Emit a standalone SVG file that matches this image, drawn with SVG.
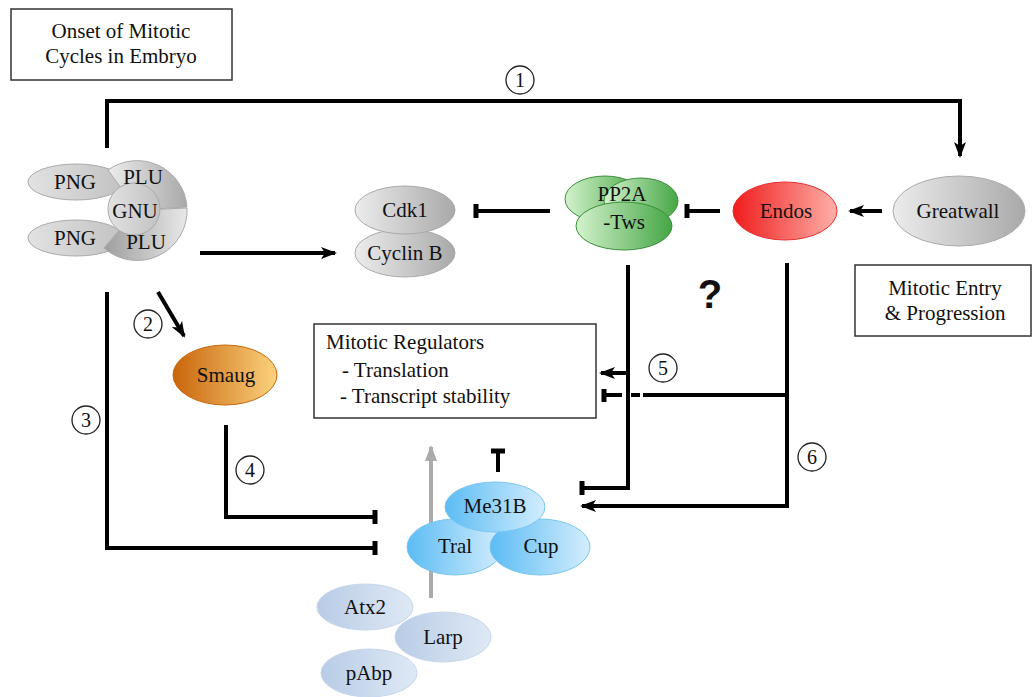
<svg xmlns="http://www.w3.org/2000/svg" width="1032" height="697" viewBox="0 0 1032 697" font-family="'Liberation Serif', 'Times New Roman', serif">
<defs>
<style>
text{font-family:'Liberation Serif','Times New Roman',serif;fill:#111;}
.lbl{font-size:21px;text-anchor:middle;}
.box{fill:#fff;stroke:#333;stroke-width:1.5;}
.ln{fill:none;stroke:#000;stroke-width:4;}
.bar{stroke:#000;stroke-width:5;}
.num circle{fill:#fff;stroke:#222;stroke-width:1.3;}
.num text{font-size:20px;text-anchor:middle;}
.q{font-family:'Liberation Sans',Arial,sans-serif;font-weight:bold;font-size:40px;text-anchor:middle;}
</style>
<marker id="ah" markerUnits="userSpaceOnUse" markerWidth="16" markerHeight="14" refX="14" refY="7" orient="auto">
<path d="M0,1 L16,7 L0,13 L4,7 z" fill="#000"/>
</marker>
<marker id="ahg" markerUnits="userSpaceOnUse" markerWidth="16" markerHeight="14" refX="14" refY="7" orient="auto">
<path d="M0,1 L16,7 L0,13 z" fill="#aaa"/>
</marker>
<linearGradient id="gGray" x1="0" x2="1" y1="0" y2="0"><stop offset="0" stop-color="#ececec"/><stop offset="1" stop-color="#a9a9a9"/></linearGradient>
<linearGradient id="gGrayL" x1="0" x2="1" y1="0" y2="0"><stop offset="0" stop-color="#e2e2e2"/><stop offset="1" stop-color="#c2c2c2"/></linearGradient>
<linearGradient id="gGrayR" x1="0" x2="1" y1="0" y2="0"><stop offset="0" stop-color="#9e9e9e"/><stop offset="1" stop-color="#e8e8e8"/></linearGradient>
<linearGradient id="gGreen" x1="0" x2="1" y1="0" y2="0"><stop offset="0" stop-color="#d4f2cc"/><stop offset="1" stop-color="#45a645"/></linearGradient>
<linearGradient id="gRed" x1="0" x2="1" y1="0" y2="0"><stop offset="0" stop-color="#f01c1c"/><stop offset="1" stop-color="#fdb0a8"/></linearGradient>
<linearGradient id="gOrange" x1="0" x2="1" y1="0" y2="0"><stop offset="0" stop-color="#c9650a"/><stop offset="1" stop-color="#fbd27e"/></linearGradient>
<linearGradient id="gBlue" x1="0" x2="1" y1="0" y2="0"><stop offset="0" stop-color="#5cbcf4"/><stop offset="1" stop-color="#d3edfd"/></linearGradient>
<linearGradient id="gPale" x1="0" x2="1" y1="0" y2="0"><stop offset="0" stop-color="#b8cce6"/><stop offset="1" stop-color="#dfe9f5"/></linearGradient>
</defs>
<rect width="1032" height="697" fill="#fff"/>

<g id="title-box">
<rect class="box" x="11" y="9" width="221" height="71"/>
<text class="lbl" x="121" y="38">Onset of Mitotic</text>
<text class="lbl" x="121" y="63">Cycles in Embryo</text>
</g>

<g id="entry-box">
<rect class="box" x="855" y="265" width="176" height="71"/>
<text class="lbl" x="945" y="295">Mitotic Entry</text>
<text class="lbl" x="945" y="320">&amp; Progression</text>
</g>

<g id="regulators-box">
<rect class="box" x="314" y="324" width="282" height="94"/>
<text x="326" y="349" font-size="21">Mitotic Regulators</text>
<text x="342" y="377" font-size="21">- Translation</text>
<text x="340" y="403" font-size="21">- Transcript stability</text>
</g>

<g id="connectors">
<polyline class="ln" points="107,148 107,101 960,101 960,156" marker-end="url(#ah)"/>
<line class="ln" x1="200" y1="253" x2="335" y2="253" marker-end="url(#ah)"/>
<line class="ln" x1="550" y1="211" x2="476" y2="211"/>
<line class="bar" x1="476" y1="204" x2="476" y2="218"/>
<line class="ln" x1="720" y1="211" x2="687" y2="211"/>
<line class="bar" x1="687" y1="204" x2="687" y2="218"/>
<line class="ln" x1="882" y1="211" x2="850" y2="211" marker-end="url(#ah)"/>
<line class="ln" x1="158" y1="292" x2="184" y2="336" marker-end="url(#ah)"/>
<polyline class="ln" points="107,292 107,548 375,548"/>
<line class="bar" x1="375" y1="541" x2="375" y2="555"/>
<polyline class="ln" points="226,425 226,517 375,517"/>
<line class="bar" x1="375" y1="510" x2="375" y2="524"/>
<polyline class="ln" points="628,265 628,488 582,488"/>
<line class="bar" x1="582" y1="481" x2="582" y2="495"/>
<polyline class="ln" points="787,263 787,506 582,506" marker-end="url(#ah)"/>
<line class="ln" x1="628" y1="373" x2="601" y2="373" marker-end="url(#ah)"/>
<line class="ln" x1="787" y1="395" x2="643" y2="395"/>
<line class="ln" x1="640" y1="395" x2="631" y2="395"/>
<line class="ln" x1="622" y1="395" x2="604" y2="395"/>
<line class="bar" x1="604" y1="389" x2="604" y2="402"/>
<line class="ln" x1="498" y1="472" x2="498" y2="451"/>
<line class="bar" x1="491" y1="451" x2="505" y2="451"/>
<line x1="431" y1="598" x2="431" y2="447" stroke="#aaa" stroke-width="4" marker-end="url(#ahg)"/>
</g>

<g id="labels">
<g class="num"><circle cx="520" cy="80" r="14"/><text x="520" y="87">1</text></g>
<g class="num"><circle cx="148" cy="324" r="14"/><text x="148" y="331">2</text></g>
<g class="num"><circle cx="86" cy="420" r="14"/><text x="86" y="427">3</text></g>
<g class="num"><circle cx="250" cy="470" r="14"/><text x="250" y="477">4</text></g>
<g class="num"><circle cx="663" cy="368" r="14"/><text x="663" y="375">5</text></g>
<g class="num"><circle cx="812" cy="457" r="14"/><text x="812" y="464">6</text></g>
<text class="q" x="710" y="308">?</text>
</g>

<g id="png-plu-gnu">
<ellipse cx="76" cy="182" rx="48" ry="18" fill="url(#gGrayL)" stroke="#aaa"/>
<ellipse cx="76" cy="238" rx="48" ry="18" fill="url(#gGrayL)" stroke="#aaa"/>
<path d="M137,210 L108,170 A50,50 0 0,1 187,207 Z" fill="url(#gGray)" stroke="#aaa"/>
<path d="M137,210 L187,208 A50,50 0 0,1 104,248 Z" fill="url(#gGrayR)" stroke="#aaa"/>
<circle cx="134" cy="209" r="26" fill="url(#gGrayL)" stroke="#aaa"/>
<text class="lbl" x="75" y="189">PNG</text>
<text class="lbl" x="75" y="245">PNG</text>
<text class="lbl" x="143" y="184">PLU</text>
<text class="lbl" x="135" y="218">GNU</text>
<text class="lbl" x="146" y="249">PLU</text>
</g>

<g id="cdk1-cyclinb">
<ellipse cx="405" cy="253" rx="50" ry="24" fill="url(#gGray)" stroke="#aaa"/>
<ellipse cx="405" cy="210" rx="50" ry="24" fill="url(#gGray)" stroke="#aaa"/>
<text class="lbl" x="405" y="217">Cdk1</text>
<text class="lbl" x="405" y="260">Cyclin B</text>
</g>

<g id="pp2a-tws">
<ellipse cx="605" cy="199" rx="40" ry="23" fill="url(#gGreen)" stroke="#3a8f3a"/>
<ellipse cx="641" cy="201" rx="37" ry="23" fill="url(#gGreen)" stroke="#3a8f3a"/>
<ellipse cx="624" cy="226" rx="48" ry="24" fill="url(#gGreen)" stroke="#3a8f3a"/>
<text class="lbl" x="622" y="201">PP2A</text>
<text class="lbl" x="624" y="229">-Tws</text>
</g>

<g id="endos">
<ellipse cx="785" cy="211" rx="52" ry="29" fill="url(#gRed)" stroke="#e83030"/>
<text class="lbl" x="786" y="218">Endos</text>
</g>

<g id="greatwall">
<ellipse cx="959" cy="211" rx="66" ry="35" fill="url(#gGray)" stroke="#aaa"/>
<text class="lbl" x="958" y="218">Greatwall</text>
</g>

<g id="smaug">
<ellipse cx="225" cy="375" rx="52" ry="30" fill="url(#gOrange)" stroke="#c96a10"/>
<text class="lbl" x="226" y="382">Smaug</text>
</g>

<g id="me31b-complex">
<ellipse cx="455" cy="547" rx="48" ry="28" fill="url(#gBlue)" stroke="#78c6f0"/>
<ellipse cx="540" cy="547" rx="50" ry="28" fill="url(#gBlue)" stroke="#78c6f0"/>
<ellipse cx="495" cy="507" rx="50" ry="25" fill="url(#gBlue)" stroke="#78c6f0"/>
<text class="lbl" x="495" y="513">Me31B</text>
<text class="lbl" x="455" y="553">Tral</text>
<text class="lbl" x="541" y="553">Cup</text>
</g>

<g id="atx2">
<ellipse cx="365" cy="607" rx="48" ry="23" fill="url(#gPale)" stroke="#c6d6ea"/>
<text class="lbl" x="365" y="614">Atx2</text>
</g>
<g id="larp">
<ellipse cx="443" cy="637" rx="48" ry="25" fill="url(#gPale)" stroke="#c6d6ea"/>
<text class="lbl" x="443" y="644">Larp</text>
</g>
<g id="pabp">
<ellipse cx="369" cy="673" rx="48" ry="24" fill="url(#gPale)" stroke="#c6d6ea"/>
<text class="lbl" x="369" y="680">pAbp</text>
</g>
</svg>
